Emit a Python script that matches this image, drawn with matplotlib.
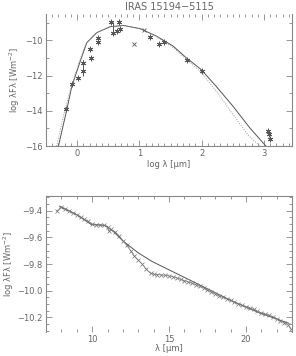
import numpy as np
import matplotlib
matplotlib.use('Agg')
import matplotlib.pyplot as plt
from matplotlib.ticker import MultipleLocator

# ---- top panel: SED ----
# model curves (log lambda [um], log lambda F_lambda [W m^-2])
sed_x = [-0.30, -0.165, -0.085, 0.05, 0.155, 0.315, 0.53, 0.745, 1.01, 1.275,
         1.54, 1.75, 1.99, 2.23, 2.5, 2.77, 3.03]
sed_y = [-16.0, -13.92, -12.6, -11.18, -10.13, -9.56, -9.22, -9.15, -9.33, -9.76,
         -10.32, -10.98, -11.65, -12.6, -13.73, -14.96, -16.0]
sed2_x = [-0.33, -0.2, -0.1, 0.03, 0.14, 0.3, 0.52, 0.74, 1.0, 1.27,
          1.52, 1.75, 2.0, 2.25, 2.5, 2.75, 2.93]
sed2_y = [-16.0, -14.0, -12.7, -11.25, -10.18, -9.58, -9.23, -9.16, -9.34, -9.78,
          -10.35, -11.05, -11.85, -12.95, -14.2, -15.4, -16.0]

# photometry (asterisks)
phot_x = [-0.18, -0.085, 0.02, 0.09, 0.10, 0.21, 0.22, 0.34, 0.34, 0.55, 0.57,
          0.645, 0.68, 0.69, 1.17, 1.32, 1.39, 1.77, 2.0, 3.06, 3.08, 3.09]
phot_y = [-13.92, -12.5, -12.12, -11.27, -11.74, -10.51, -10.98, -9.85, -10.1,
          -8.96, -9.56, -9.47, -8.96, -9.38, -9.79, -10.19, -10.1, -11.12,
          -11.74, -15.15, -15.34, -15.6]
# error bars
err_x = [0.09, 0.57]
err_lo = [-12.0, -9.56]
err_hi = [-11.1, -8.96]
# other points (crosses)
cross_x = [0.91, 1.07]
cross_y = [-10.19, -9.42]

# ---- bottom panel: spectrum ----
mod_x = [7.89, 9.0, 9.96, 10.83, 11.37, 12.03, 13.0, 13.88, 15.18, 16.93, 19.1, 20.85, 22.8]
mod_y = [-9.37, -9.43, -9.505, -9.51, -9.555, -9.63, -9.716, -9.78, -9.854, -9.953,
         -10.078, -10.165, -10.245]

spec_x = [7.7, 8.0, 8.25, 8.5, 8.75, 9.0, 9.25, 9.5, 9.75, 10.0, 10.25, 10.5, 10.75,
          11.0, 11.1, 11.25, 11.5, 11.75, 12.0, 12.25, 12.5, 12.75, 13.0, 13.25, 13.5,
          13.8, 14.0, 14.25, 14.5, 14.75, 15.0, 15.25, 15.5, 15.75, 16.0, 16.25, 16.5,
          16.75, 17.0, 17.25, 17.5, 17.75, 18.0, 18.25, 18.5, 18.75, 19.0, 19.25, 19.5,
          19.75, 20.0, 20.25, 20.5, 20.75, 21.0, 21.25, 21.5, 21.75, 22.0, 22.25, 22.5,
          22.75, 22.95]
spec_y = [-9.405, -9.37, -9.385, -9.40, -9.415, -9.43, -9.45, -9.465, -9.48, -9.50,
          -9.505, -9.505, -9.51, -9.52, -9.555, -9.54, -9.56, -9.59, -9.625, -9.66,
          -9.70, -9.74, -9.77, -9.80, -9.835, -9.87, -9.875, -9.88, -9.882, -9.885,
          -9.89, -9.895, -9.905, -9.915, -9.925, -9.935, -9.945, -9.955, -9.968, -9.98,
          -9.995, -10.01, -10.025, -10.04, -10.05, -10.06, -10.07, -10.085, -10.10,
          -10.11, -10.12, -10.13, -10.14, -10.155, -10.165, -10.175, -10.185, -10.195,
          -10.21, -10.225, -10.24, -10.255, -10.29]

ink = '#555555'
txt = '#666666'
plt.rcParams['font.family'] = 'DejaVu Sans'
plt.rcParams['font.size'] = 6

fig = plt.figure(figsize=(2.96, 3.56), dpi=100)
ax1 = fig.add_axes([46/296, 1 - 146/356, 246/296, 132/356])
ax2 = fig.add_axes([46/296, 1 - 332/356, 246/296, 136/356])

def style(ax):
    for s in ax.spines.values():
        s.set_color('#888888')
        s.set_linewidth(0.8)
    ax.tick_params(which='both', direction='in', top=True, right=True,
                   colors='#888888', labelcolor=txt, width=0.6, labelsize=6, pad=2.5)
    ax.tick_params(which='major', length=4)
    ax.tick_params(which='minor', length=2)

# top panel
ax1.plot(sed_x, sed_y, color=ink, lw=0.7)
ax1.plot(sed2_x, sed2_y, color='#999999', lw=0.7, ls=(0, (1, 1.5)))
ax1.vlines(err_x, err_lo, err_hi, color=ink, lw=0.7)
ax1.plot(phot_x, phot_y, ls='none', marker=(6, 2, 0), ms=4, mew=0.6, color=ink)
ax1.plot(cross_x, cross_y, ls='none', marker='x', ms=3.5, mew=0.6, color=ink)
ax1.set_xlim(-0.5, 3.45)
ax1.set_ylim(-16, -8.5)
ax1.set_xticks([0, 1, 2, 3])
ax1.set_yticks([-10, -12, -14, -16])
ax1.set_yticklabels(['\u221210', '\u221212', '\u221214', '\u221216'])
ax1.xaxis.set_minor_locator(MultipleLocator(0.1))
ax1.yaxis.set_minor_locator(MultipleLocator(1))
style(ax1)
ax1.spines['top'].set_visible(False)
ax1.set_xlabel('log \u03bb [\u03bcm]', color=txt, fontsize=6, labelpad=1)
ax1.set_ylabel('log \u03bbF\u03bb [Wm$^{-2}$]', color=txt, fontsize=6, labelpad=2)
ax1.set_title('IRAS 15194\u22125115', color=txt, fontsize=7, pad=3)

# bottom panel
ax2.plot(mod_x, mod_y, color=ink, lw=0.7)
ax2.plot(spec_x, spec_y, color='#777777', lw=0.5, marker='x', ms=2.2, mew=0.5)
ax2.set_xlim(7, 23)
ax2.set_ylim(-10.31, -9.29)
ax2.set_xticks([10, 15, 20])
ax2.set_yticks([-9.4, -9.6, -9.8, -10.0, -10.2])
ax2.set_yticklabels(['\u22129.4', '\u22129.6', '\u22129.8', '\u221210.0', '\u221210.2'])
ax2.xaxis.set_minor_locator(MultipleLocator(1))
ax2.yaxis.set_minor_locator(MultipleLocator(0.05))
style(ax2)
ax2.spines['bottom'].set_visible(False)
ax2.set_xlabel('\u03bb [\u03bcm]', color=txt, fontsize=6, labelpad=0)
ax2.set_ylabel('log \u03bbF\u03bb [Wm$^{-2}$]', color=txt, fontsize=6, labelpad=1)

fig.savefig('out.png', dpi=100)
